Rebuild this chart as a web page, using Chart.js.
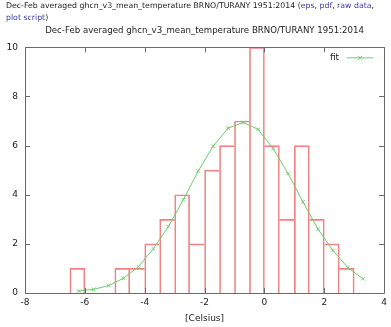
<!DOCTYPE html>
<html>
<head>
<meta charset="utf-8">
<script src="https://cdn.jsdelivr.net/npm/chart.js@4.4.1/dist/chart.umd.min.js"></script>
<style>
  body { margin: 0; background: #fff; }
  #wrap { position: relative; width: 391px; height: 327px; }
  #head { position: absolute; left: 6px; top: 0px; font: 7.8px "DejaVu Sans", sans-serif; line-height: 12px; color: #222; white-space: nowrap; }
  #head a { color: #3b3ba6; text-decoration: none; }
  canvas { position: absolute; left: 0; top: 0; }
</style>
</head>
<body>
<div id="wrap">
  <canvas id="histChart" width="391" height="327"></canvas>
  <div id="head">Dec-Feb averaged ghcn_v3_mean_temperature BRNO/TURANY 1951:2014 (<a href="#">eps</a>, <a href="#">pdf</a>, <a href="#">raw data</a>,<br><a href="#">plot script</a>)</div>
</div>
<script>
// histogram bins (centre of each 0.5 C bin) and counts
var binCentres = [-6.25, -4.75, -4.25, -3.75, -3.25, -2.75, -2.25, -1.75, -1.25, -0.75, -0.25, 0.25, 0.75, 1.25, 1.75, 2.25, 2.75];
var binCounts  = [1, 1, 1, 2, 3, 4, 2, 5, 6, 7, 10, 6, 3, 6, 3, 2, 1];

// fitted curve
var fitX = [-6.21, -5.71, -5.21, -4.71, -4.21, -3.71, -3.21, -2.71, -2.21, -1.71, -1.21, -0.71, -0.21, 0.29, 0.79, 1.29, 1.79, 2.29, 2.79, 3.29];
var fitY = [0.08, 0.15, 0.3, 0.6, 1.07, 1.8, 2.7, 3.8, 4.97, 5.98, 6.71, 6.94, 6.66, 5.88, 4.86, 3.7, 2.6, 1.73, 1.03, 0.58];

var barColor = 'rgb(240,130,130)';
var fitColor = 'rgb(110,205,110)';
var frameColor = '#6a6a6a';

let histData = [];
for (let i = 0; i < binCentres.length; i++) {
	histData.push({x: binCentres[i], y: binCounts[i]});
}
let fitData = [];
for (let i = 0; i < fitX.length; i++) {
	fitData.push({x: fitX[i], y: fitY[i]});
}

// a shared edge between two bars is drawn once, by the taller bar
function barBorder(c) {
	let i = c.dataIndex;
	let h = binCounts[i];
	let hasPrev = i > 0 && Math.abs(binCentres[i] - binCentres[i - 1] - 0.5) < 1e-6;
	let hasNext = i + 1 < binCentres.length && Math.abs(binCentres[i + 1] - binCentres[i] - 0.5) < 1e-6;
	let left = (!hasPrev || binCounts[i - 1] < h) ? 1 : 0;
	let right = (!hasNext || binCounts[i + 1] <= h) ? 1 : 0;
	return {left: left, top: 1, right: right, bottom: 0};
}

// gnuplot style frame with inward ticks, plus the "fit" key
const gnuFrame = {
	id: 'gnuFrame',
	afterDraw(chart) {
		const ctx = chart.ctx;
		const a = chart.chartArea;
		const sx = chart.scales.x;
		const sy = chart.scales.y;
		ctx.save();
		ctx.strokeStyle = frameColor;
		ctx.lineWidth = 1;
		ctx.beginPath();
		ctx.rect(Math.round(a.left) + 0.5, Math.round(a.top) + 0.5, Math.round(a.right - a.left), Math.round(a.bottom - a.top));
		sx.ticks.forEach(function(t, i) {
			let px = Math.round(sx.getPixelForTick(i)) + 0.5;
			ctx.moveTo(px, a.top); ctx.lineTo(px, a.top + 5);
			ctx.moveTo(px, a.bottom); ctx.lineTo(px, a.bottom - 5);
		});
		sy.ticks.forEach(function(t, i) {
			let py = Math.round(sy.getPixelForTick(i)) + 0.5;
			ctx.moveTo(a.left, py); ctx.lineTo(a.left + 5, py);
			ctx.moveTo(a.right, py); ctx.lineTo(a.right - 5, py);
		});
		ctx.stroke();

		// key
		let ky = a.top + 10.5;
		ctx.font = '9px "DejaVu Sans", sans-serif';
		ctx.fillStyle = '#222';
		ctx.textAlign = 'right';
		ctx.textBaseline = 'middle';
		ctx.fillText('fit', a.right - 45, ky);
		ctx.strokeStyle = fitColor;
		ctx.beginPath();
		ctx.moveTo(a.right - 37, ky); ctx.lineTo(a.right - 11, ky);
		let mx = a.right - 24;
		ctx.moveTo(mx - 2, ky - 2); ctx.lineTo(mx + 2, ky + 2);
		ctx.moveTo(mx - 2, ky + 2); ctx.lineTo(mx + 2, ky - 2);
		ctx.stroke();
		ctx.restore();
	}
};

const config = {
	type: 'bar',
	data: {
		datasets: [
			{
				type: 'line',
				label: 'fit',
				data: fitData,
				borderColor: fitColor,
				backgroundColor: fitColor,
				borderWidth: 1,
				pointStyle: 'crossRot',
				pointRadius: 2.5,
				pointBorderWidth: 1,
				tension: 0,
				order: 1
			},
			{
				label: 'hist',
				data: histData,
				backgroundColor: 'rgba(0,0,0,0)',
				borderColor: barColor,
				borderWidth: barBorder,
				borderSkipped: false,
				barPercentage: 1,
				categoryPercentage: 1,
				order: 2
			}
		]
	},
	options: {
		responsive: false,
		animation: false,
		events: [],
		layout: {
			padding: {top: 22, right: 2, left: 0, bottom: 0},
			autoPadding: false
		},
		scales: {
			x: {
				type: 'linear',
				min: -8,
				max: 4,
				offset: false,
				grid: {display: false, drawTicks: false},
				border: {display: false},
				ticks: {stepSize: 2, padding: 4, color: '#222', font: {family: 'DejaVu Sans', size: 9}},
				title: {display: true, text: '[Celsius]', color: '#222', padding: {top: 0, bottom: 3}, font: {family: 'DejaVu Sans', size: 9}},
				afterFit: function(s) { s.height = 34; }
			},
			y: {
				type: 'linear',
				min: 0,
				max: 10,
				grid: {display: false, drawTicks: false},
				border: {display: false},
				ticks: {stepSize: 2, padding: 7, color: '#222', font: {family: 'DejaVu Sans', size: 9}},
				afterFit: function(s) { s.width = 25; }
			}
		},
		plugins: {
			legend: {display: false},
			tooltip: {enabled: false},
			title: {
				display: true,
				fullSize: false,
				text: 'Dec-Feb averaged ghcn_v3_mean_temperature BRNO/TURANY 1951:2014',
				color: '#222',
				font: {family: 'DejaVu Sans', size: 8.6, weight: 'normal'},
				padding: {top: 4, bottom: 11}
			}
		}
	},
	plugins: [gnuFrame]
};

new Chart(document.getElementById('histChart'), config);
</script>
</body>
</html>
